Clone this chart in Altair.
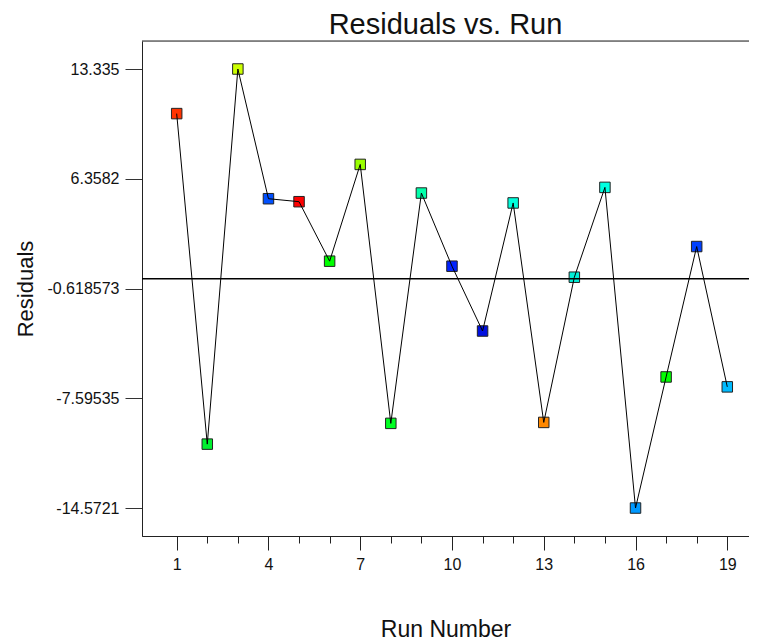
import altair as alt
import pandas as pd

runs = list(range(1, 20))
residuals = [10.50, -10.51, 13.335, 5.09, 4.90, 1.12, 7.27, -9.19, 5.45, 0.80,
             -3.32, 4.82, -9.13, 0.10, 5.81, -14.5721, -6.24, 2.05, -6.87]
point_colors = ["#FF3300", "#00F030", "#CCFF00", "#0050FF", "#FF0000", "#00FF00",
                "#99FF00", "#00FF22", "#00FFAA", "#0022FF", "#0010E0", "#00FFDD",
                "#FF8800", "#00F0D8", "#00FFE0", "#0099FF", "#00FF00", "#0040FF",
                "#00BBFF"]
y_tick_values = [13.335, 6.3582, -0.618573, -7.59535, -14.5721]
y_tick_labels = ["13.335", "6.3582", "-0.618573", "-7.59535", "-14.5721"]
x_major_ticks = [1, 4, 7, 10, 13, 16, 19]
x_minor_ticks = list(range(1, 20))

df = pd.DataFrame({"run": runs, "res": residuals})

W, H = 607, 495
FONT = "Liberation Sans"

label_expr = "[" + ",".join("'%s'" % s for s in y_tick_labels) + "][indexof([" + \
    ",".join(repr(v) for v in y_tick_values) + "], datum.value)]"

xscale = alt.Scale(domain=[-0.134, 19.71], nice=False, zero=False)
yscale = alt.Scale(domain=[-16.35, 15.115], nice=False, zero=False)

yaxis = alt.Axis(values=y_tick_values, labelExpr=label_expr, tickSize=17,
                 labelPadding=6, labelFontSize=16, labelFont=FONT, labelColor="#111",
                 tickColor="#333", domainColor="#222", grid=False,
                 title="Residuals", titleFont=FONT, titleFontSize=22,
                 titleFontWeight="normal", titleColor="#111", titleAngle=-90,
                 titleX=-117, titleY=H / 2, titleBaseline="middle", titleAlign="center")

major_axis = alt.Axis(orient="bottom", values=x_major_ticks, tickSize=14, labelPadding=6,
                      labelFontSize=16, labelFont=FONT, labelColor="#111",
                      tickColor="#222", domainColor="#222", grid=False,
                      title="Run Number", titleFont=FONT, titleFontSize=23,
                      titleFontWeight="normal", titleColor="#111",
                      titleY=100, titleBaseline="alphabetic")
minor_axis = alt.Axis(orient="bottom", values=x_minor_ticks, tickSize=7, labels=False,
                      tickColor="#222", domainColor="#222", grid=False, title=None)

base = alt.Chart(df)

points = base.mark_point(shape="square", size=110, filled=True, opacity=1,
                         stroke="#222", strokeWidth=1).encode(
    x=alt.X("run:Q", scale=xscale, axis=minor_axis),
    y=alt.Y("res:Q", scale=yscale, axis=yaxis),
    color=alt.Color("run:N", scale=alt.Scale(domain=runs, range=point_colors), legend=None),
)

line = base.mark_line(color="black", strokeWidth=1).encode(
    x=alt.X("run:Q", scale=xscale, axis=major_axis),
    y=alt.Y("res:Q", scale=yscale, axis=yaxis),
)

zero = alt.Chart(pd.DataFrame({"z": [0]})).mark_rule(color="black", strokeWidth=1.5).encode(
    y=alt.Y("z:Q", scale=yscale, axis=yaxis)
)

top = alt.Chart(pd.DataFrame({"z": [0]})).mark_rule(color="#222", strokeWidth=1).encode(
    x=alt.value(0), x2=alt.value(W), y=alt.value(0)
)

chart = alt.layer(points, line, zero, top).resolve_axis(x="independent").properties(
    width=W, height=H,
    title=alt.TitleParams("Residuals vs. Run", font=FONT, fontSize=29, fontWeight="normal",
                          color="#111", anchor="middle", offset=1),
    autosize=alt.AutoSizeParams(type="none"),
    padding={"left": 134, "top": 33, "right": 0, "bottom": 105},
).configure_view(stroke=None).configure(background="white")

chart.save("out.html", embed_options={"renderer": "svg", "actions": False})
